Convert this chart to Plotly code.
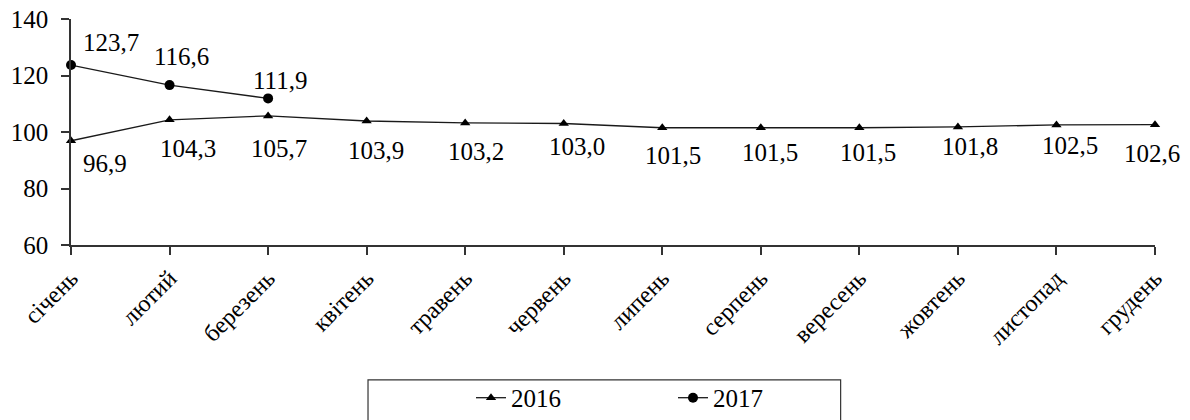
import plotly.graph_objects as go

months = ["січень", "лютий", "березень", "квітень", "травень", "червень",
          "липень", "серпень", "вересень", "жовтень", "листопад", "грудень"]
values_2016 = [96.9, 104.3, 105.7, 103.9, 103.2, 103.0, 101.5, 101.5, 101.5, 101.8, 102.5, 102.6]
values_2017 = [123.7, 116.6, 111.9]
y_ticks = [60, 80, 100, 120, 140]

# label offsets (px) relative to the point, style only
off_2016 = [(34, -23), (18, -29), (11, -33), (9, -30), (11, -29), (13, -23),
            (11, -28), (9, -25), (9, -25), (12, -20), (14, -21), (-3, -29)]
off_2017 = [(40, 23), (12, 29), (12, 18)]

FONT = "Liberation Serif, Times New Roman, serif"
fmt = lambda v: f"{v:.1f}".replace(".", ",")

fig = go.Figure()
fig.add_trace(go.Scatter(
    x=months, y=values_2016, name="2016", mode="lines+markers",
    line=dict(color="#1a1a1a", width=1.3),
    marker=dict(symbol="triangle-up", size=9, color="black"),
    cliponaxis=False,
))
fig.add_trace(go.Scatter(
    x=months[:len(values_2017)], y=values_2017, name="2017", mode="lines+markers",
    line=dict(color="#1a1a1a", width=1.3),
    marker=dict(symbol="circle", size=10, color="black"),
    cliponaxis=False,
))

annotations = []
for m, v, (dx, dy) in zip(months, values_2016, off_2016):
    annotations.append(dict(x=m, y=v, text=fmt(v), showarrow=False,
                            xshift=dx, yshift=dy, font=dict(family=FONT, size=25, color="black")))
for m, v, (dx, dy) in zip(months, values_2017, off_2017):
    annotations.append(dict(x=m, y=v, text=fmt(v), showarrow=False,
                            xshift=dx, yshift=dy, font=dict(family=FONT, size=25, color="black")))

fig.update_layout(
    width=1190, height=420,
    margin=dict(l=71, r=35, t=19, b=175, autoexpand=False),
    paper_bgcolor="white", plot_bgcolor="white",
    font=dict(family=FONT, size=24, color="black"),
    showlegend=True,
    legend=dict(orientation="h", x=0.369, xanchor="left", y=-0.575, yanchor="top",
                bgcolor="rgba(0,0,0,0)", borderwidth=0,
                font=dict(family=FONT, size=25, color="black"),
                entrywidth=157, entrywidthmode="pixels"),
    annotations=annotations,
    shapes=[dict(type="rect", xref="paper", yref="paper",
                 x0=0.274, x1=0.710, y0=-0.85, y1=-0.597,
                 line=dict(color="#333333", width=1.2), fillcolor="rgba(0,0,0,0)")],
    xaxis=dict(type="category", range=[0, 11], showgrid=False, zeroline=False,
               automargin=False,
               showline=True, linecolor="#333333", linewidth=1.5,
               ticks="outside", ticklen=8, tickcolor="#333333", tickwidth=1.5,
               ticklabeloverflow="allow",
               tickangle=-45, tickfont=dict(family=FONT, size=24, color="black")),
    yaxis=dict(range=[60, 140], tickvals=y_ticks, showgrid=False, zeroline=False,
               automargin=False,
               showline=True, linecolor="#333333", linewidth=1.5,
               ticks="outside", ticklen=8, tickcolor="#333333", tickwidth=1.5,
               ticklabelstandoff=8, ticklabeloverflow="allow",
               tickfont=dict(family=FONT, size=25, color="black")),
)

fig.write_html("out.html",
               config={"displayModeBar": False},
               post_script="document.body.style.margin='0';document.body.style.overflow='hidden';")
